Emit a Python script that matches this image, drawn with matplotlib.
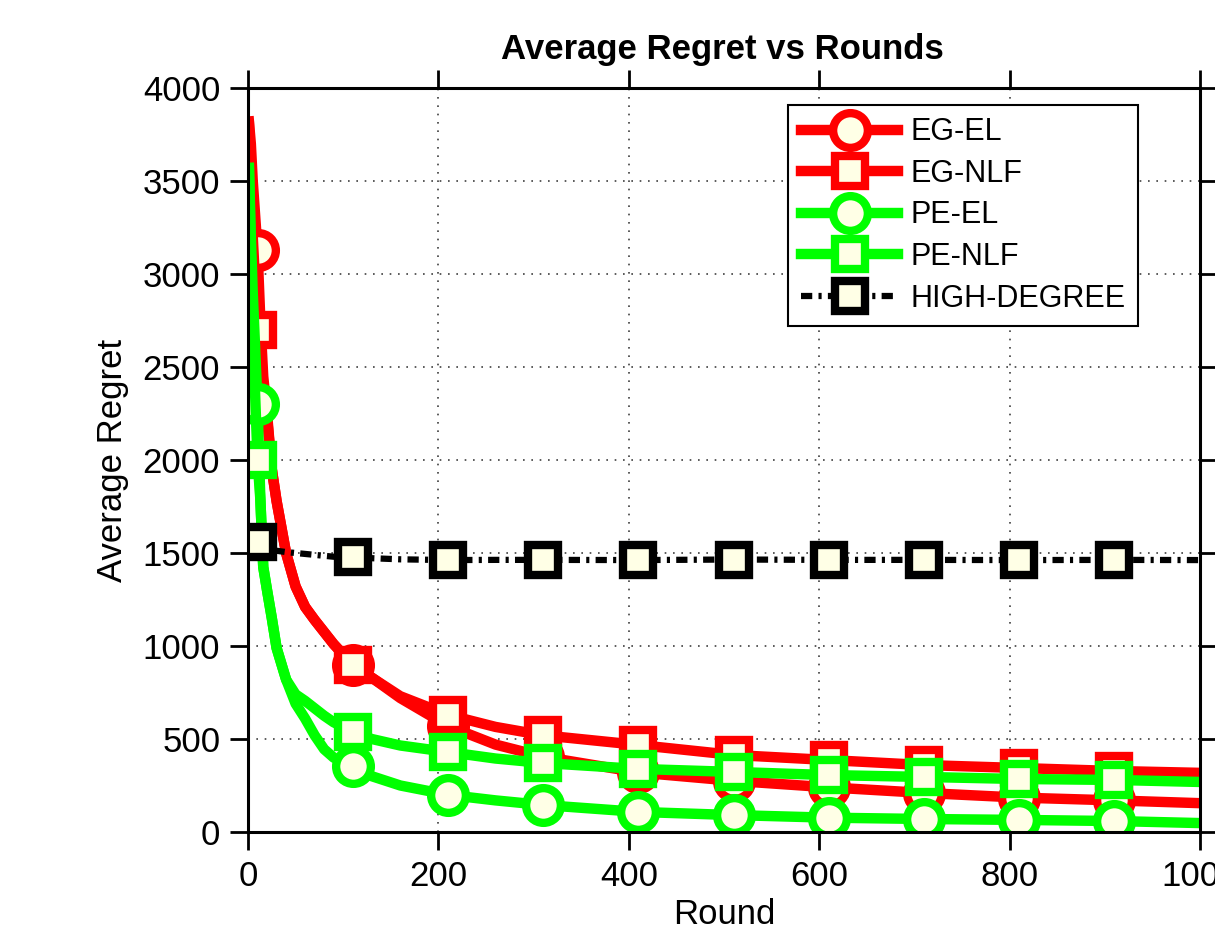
import matplotlib
matplotlib.use('Agg')
import matplotlib.pyplot as plt
import numpy as np

plt.rcParams['font.family'] = ['Liberation Sans', 'DejaVu Sans']

## rounds (shared x grid for all curves)
rounds = [1, 3, 5, 10, 13, 16, 20, 25, 30, 40, 50, 60, 70, 80, 90, 110, 130, 160,
          210, 260, 310, 410, 510, 610, 710, 810, 910, 1000]

eg_el = [3820, 3700, 3500, 3130, 2750, 2450, 2250, 1950, 1780, 1500, 1320, 1210, 1140,
         1075, 1010, 900, 830, 720, 570, 470, 405, 320, 275, 240, 210, 185, 170, 155]
eg_nlf = [3800, 3500, 3200, 2700, 2550, 2400, 2230, 1950, 1780, 1500, 1320, 1210, 1140,
          1075, 1010, 898, 830, 730, 630, 565, 520, 468, 414, 387, 360, 344, 328, 318]
pe_el = [3570, 3200, 2900, 2300, 1785, 1425, 1300, 1150, 990, 820, 690, 610, 520,
         445, 400, 355, 300, 250, 200, 170, 145, 108, 91, 77, 70, 65, 59, 48]
pe_nlf = [3570, 3100, 2700, 2000, 1785, 1425, 1300, 1150, 990, 820, 740, 705, 665,
          625, 590, 538, 500, 465, 430, 395, 371, 339, 323, 306, 296, 285, 280, 269]
high_degree = [1570, 1565, 1562, 1559, 1550, 1540, 1530, 1520, 1512, 1505, 1500, 1495,
               1490, 1485, 1480, 1478, 1472, 1466, 1462, 1463, 1463, 1462, 1465, 1463,
               1463, 1462, 1463, 1462]

series_labels = ['EG-EL', 'EG-NLF', 'PE-EL', 'PE-NLF', 'HIGH-DEGREE']

# markers every 100 rounds, starting at round 10
mark_idx = [i for i, r in enumerate(rounds) if r % 100 == 10]

face = '#FFFFE6'
fig = plt.figure(figsize=(12.15, 9.35), dpi=100)
ax = fig.add_axes([248/1215, 1 - 832/935, (1200-248)/1215, (832-88)/935])

styles = [
    (eg_el, 'red', 'o', 25, '-', 7.5),
    (eg_nlf, 'red', 's', 22, '-', 7.5),
    (pe_el, '#00FF00', 'o', 25, '-', 7.5),
    (pe_nlf, '#00FF00', 's', 22, '-', 7.5),
    (high_degree, 'black', 's', 22, (0, (1.8, 1.0, 0.5, 1.0)), 4.5),
]
for (vals, col, mk, ms, ls, lw), lab in zip(styles, series_labels):
    ax.plot(rounds, vals, color=col, linestyle=ls, linewidth=lw, marker=mk,
            markersize=ms, markeredgewidth=6, markeredgecolor=col,
            markerfacecolor=face, markevery=mark_idx, label=lab)

ax.set_xlim(0, 1000)
ax.set_ylim(0, 4000)
ax.set_xticks(np.arange(0, 1001, 200))
ax.set_yticks(np.arange(0, 4001, 500))
ax.grid(True, linestyle=(0, (1, 4)), color='0.25', linewidth=1.2)

for s in ax.spines.values():
    s.set_linewidth(2.2)
ax.tick_params(direction='out', length=13, width=2, labelsize=25, pad=7,
               top=True, right=True)

# title placed in figure coords, above the top ticks
fig.text(722/1215, 1 - 50/935, 'Average Regret vs Rounds', fontsize=25,
         fontweight='bold', ha='center', va='center')
ax.set_xlabel('Round', fontsize=25, labelpad=4)
ax.set_ylabel('Average Regret', fontsize=25, labelpad=10)

leg = ax.legend(loc='upper right', bbox_to_anchor=((1138-248)/952, (832-105)/744),
                borderaxespad=0, fontsize=22, numpoints=1, handlelength=3.2,
                labelspacing=0.38, fancybox=False, framealpha=1, edgecolor='black',
                borderpad=0.4, handletextpad=0.4)
leg.get_frame().set_linewidth(1.5)

fig.savefig('out.png', dpi=100)
